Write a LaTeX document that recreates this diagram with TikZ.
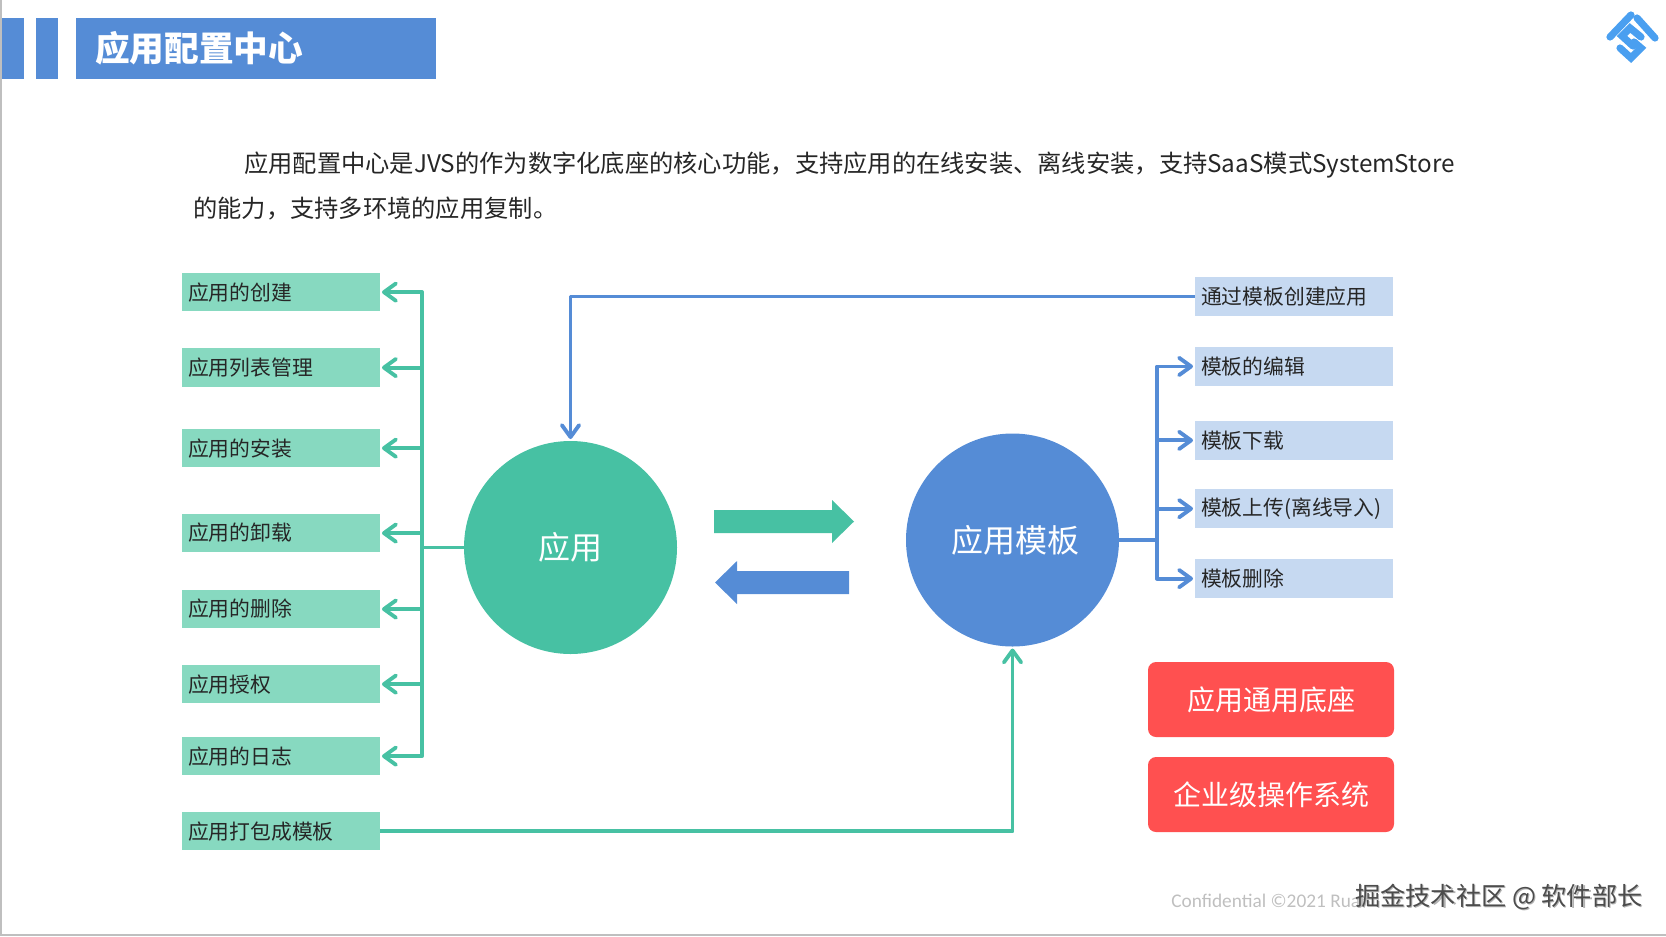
\documentclass[tikz,border=0pt]{standalone}
\usepackage{fontspec}
\usepackage{xcolor}
\usetikzlibrary{positioning,arrows.meta}
\setmainfont{Noto Sans CJK SC}
\newfontfamily\latinfont{Carlito}
\definecolor{B1}{RGB}{85,140,214}
\definecolor{G1}{RGB}{71,193,163}
\definecolor{G2}{RGB}{135,217,192}
\definecolor{B2}{RGB}{198,217,241}
\definecolor{R1}{RGB}{255,80,80}
\definecolor{L1}{RGB}{74,159,240}
\begin{document}
\begin{tikzpicture}[
  x=0.75pt, y=-0.75pt,
  bar/.style={fill=B1, draw=none, inner sep=0pt, outer sep=0pt},
  body/.style={anchor=west, inner sep=0pt, font=\fontsize{18.2pt}{22pt}\selectfont, text=black!85},
  itemg/.style={fill=G2, inner xsep=4.5pt, inner ysep=0pt, outer sep=0pt, text width=139.5pt, minimum height=28.7pt,
                align=left, font=\fontsize{15.6pt}{18pt}\selectfont, text=black!85},
  itemb/.style={itemg, fill=B2, minimum height=29.25pt},
  hub/.style={circle, inner sep=0pt, outer sep=0pt, minimum size=159.75pt, text=white, font=\fontsize{24pt}{28pt}\selectfont},
  redbox/.style={fill=R1, rounded corners=6pt, inner sep=0pt, outer sep=0pt, minimum width=184.5pt, minimum height=56.25pt,
                 text=white, font=\fontsize{21pt}{25pt}\selectfont},
  arrg/.style={draw=G1, line width=2.9pt, -{Straight Barb[length=9pt,width=13pt,round]}, shorten >=1.5pt, line join=round},
  arrb/.style={arrg, draw=B1},
  lineg/.style={draw=G1, line width=2.9pt},
  lineb/.style={draw=B1, line width=2.9pt},
  logoline/.style={draw=L1, line width=5.4pt, line cap=round, line join=miter},
]
\useasboundingbox (0,0) rectangle (1666,936);
\draw[black!25, line width=1.2pt] (1,0) -- (1,936);
\draw[black!25, line width=1.2pt] (0,935) -- (1666,935);

% header
\fill[B1] (2,18) rectangle (24,79);
\fill[B1] (36,18) rectangle (58,79);
\node[bar, anchor=north west, minimum width=270pt, minimum height=45.75pt] (head) at (76,18) {};
\node[anchor=west, inner sep=0pt, text=white, font=\fontsize{26pt}{30pt}\selectfont\bfseries] (title) at (95,48) {应用配置中心};

% logo
\draw[logoline] (1610,37) -- (1631,15);
\draw[logoline] (1637,18) -- (1655,38);
\draw[logoline] (1641,37) -- (1630,28) -- (1622,36) -- (1633,46);
\draw[logoline] (1620,48) -- (1631,58) -- (1641,48) -- (1634,42);

\node[body] (para1) at (244,165) {应用配置中心是JVS的作为数字化底座的核心功能，支持应用的在线安装、离线安装，支持SaaS模式SystemStore};
\node[body] (para2) at (193,209) {的能力，支持多环境的应用复制。};

% left column
\node[itemg, anchor=north west] (lb1) at (182,273) {应用的创建};
\node[itemg, below=27.9pt of lb1] (lb2) {应用列表管理};
\node[itemg, below=31.7pt of lb2] (lb3) {应用的安装};
\node[itemg, below=35pt of lb3] (lb4) {应用的卸载};
\node[itemg, below=28.3pt of lb4] (lb5) {应用的删除};
\node[itemg, below=27.6pt of lb5] (lb6) {应用授权};
\node[itemg, below=25.3pt of lb6] (lb7) {应用的日志};
\node[itemg, below=27.6pt of lb7] (lb8) {应用打包成模板};

% hubs
\node[hub, fill=G1] (app) at (570.5,547.5) {应用};
\node[hub, fill=B1] (tpl) at (1012.5,540) {\hspace{4pt}应用模板};

% right column
\node[itemb, anchor=north west] (rb1) at (1195,277) {通过模板创建应用};
\node[itemb, below=23.2pt of rb1] (rb2) {模板的编辑};
\node[itemb, below=26.2pt of rb2] (rb3) {模板下载};
\node[itemb, below=22pt of rb3] (rb4) {模板上传(离线导入)};
\node[itemb, below=23.2pt of rb4] (rb5) {模板删除};

\node[redbox, anchor=north east] (red1) at (1394,662) {应用通用底座};
\node[redbox, below=15pt of red1] (red2) {企业级操作系统};

% big arrows
\fill[G1] (714,510) -- (832,510) -- (832,500) -- (854,521.5) -- (832,543) -- (832,533) -- (714,533) -- cycle;
\fill[B1] (849,571) -- (737,571) -- (737,561) -- (715,582.5) -- (737,604) -- (737,594) -- (849,594) -- cycle;

% connectors
\coordinate (gj) at (422,547.5);
\coordinate (bj) at (1157,540);
\draw[lineg] (app.west) -- (gj);
\foreach \n in {1,...,7} {
  \draw[arrg] (gj) |- (lb\n.east);
}
\draw[lineb] (tpl.east) -- (bj);
\foreach \n in {2,...,5} {
  \draw[arrb] (bj) |- (rb\n.west);
}
\draw[arrb] (rb1.west) -| (app.north);
\draw[arrg] (lb8.east) -| (tpl.south);

% footer
\node[anchor=west, inner sep=0pt, text=black!25, font=\latinfont\fontsize{14.5pt}{16pt}\selectfont] (conf) at (1171,901) {Confidential ©2021 Ruan};
\node[anchor=west, inner sep=0pt, text=black!30, font=\fontsize{18.9pt}{22pt}\selectfont] (markb) at (1356.2,898.2) {掘金技术社区 @ 软件部长};
\node[anchor=west, inner sep=0pt, text=black!70, font=\fontsize{18.9pt}{22pt}\selectfont] (mark) at (1355,897) {掘金技术社区 @ 软件部长};
\end{tikzpicture}
\end{document}
